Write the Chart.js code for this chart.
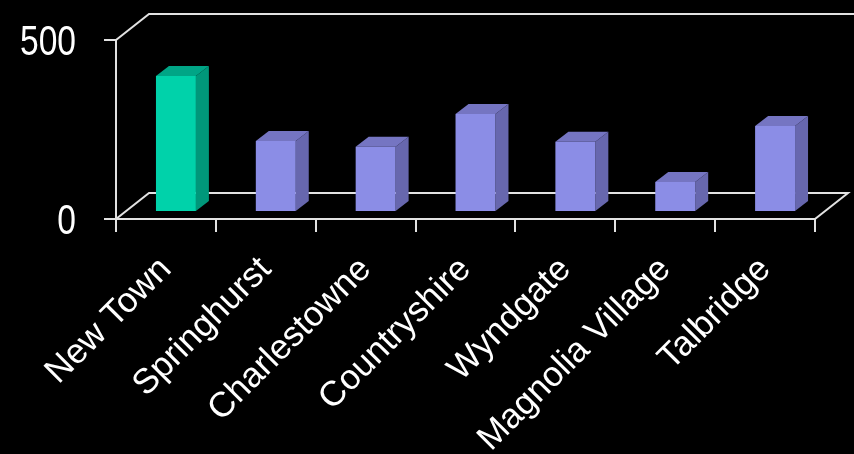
<!DOCTYPE html>
<html>
<head>
<meta charset="utf-8">
<script src="https://cdn.jsdelivr.net/npm/chart.js@4.4.1/dist/chart.umd.min.js"></script>
<style>
  html, body { margin: 0; padding: 0; background: #000; }
  #wrap { width: 854px; height: 454px; position: relative; }
  canvas { display: block; }
</style>
</head>
<body>
<div id="wrap"><canvas id="c" width="854" height="454"></canvas></div>
<script>
const categories = ["New Town", "Springhurst", "Charlestowne", "Countryshire", "Wyndgate", "Magnolia Village", "Talbridge"];
const values = [380, 198, 182, 274, 196, 84, 240];
const yTicks = [0, 500];

const frontColors = categories.map((c, i) => i === 0 ? "#00d2aa" : "#8b8de6");
const sideColors = categories.map((c, i) => i === 0 ? "#00977a" : "#6767ae");
const topColors = categories.map((c, i) => i === 0 ? "#00a586" : "#7575c2");

const LINE = "#e2e2e2";
const DEPTH = { x: 33, y: -26 };   // floor depth
const BAR_SHIFT = { x: 10, y: -7 }; // bar position inside depth
const BAR_DEPTH = { x: 13, y: -10 };

const frame3d = {
  id: "frame3d",
  beforeDatasetsDraw(chart) {
    const ctx = chart.ctx;
    const xs = chart.scales.x, ys = chart.scales.y;
    const L = xs.left, R = xs.right;
    const B = ys.getPixelForValue(0), T = ys.getPixelForValue(500);
    ctx.save();
    ctx.strokeStyle = LINE;
    ctx.lineWidth = 2;
    ctx.beginPath();
    ctx.moveTo(L, B); ctx.lineTo(L + DEPTH.x, B + DEPTH.y);
    ctx.lineTo(R + DEPTH.x, B + DEPTH.y); ctx.lineTo(R, B);
    ctx.moveTo(L, T); ctx.lineTo(L + DEPTH.x, T + DEPTH.y);
    ctx.lineTo(chart.width + 5, T + DEPTH.y);
    ctx.stroke();
    ctx.restore();

    ctx.save();
    ctx.translate(BAR_SHIFT.x, BAR_SHIFT.y);
    const meta = chart.getDatasetMeta(0);
    meta.data.forEach((bar, i) => {
      const p = bar.getProps(["x", "y", "base", "width"], true);
      const l = p.x - p.width / 2, r = p.x + p.width / 2;
      ctx.fillStyle = sideColors[i];
      ctx.beginPath();
      ctx.moveTo(r, p.base); ctx.lineTo(r + BAR_DEPTH.x, p.base + BAR_DEPTH.y);
      ctx.lineTo(r + BAR_DEPTH.x, p.y + BAR_DEPTH.y); ctx.lineTo(r, p.y);
      ctx.closePath(); ctx.fill();
      ctx.fillStyle = topColors[i];
      ctx.beginPath();
      ctx.moveTo(l, p.y); ctx.lineTo(l + BAR_DEPTH.x, p.y + BAR_DEPTH.y);
      ctx.lineTo(r + BAR_DEPTH.x, p.y + BAR_DEPTH.y); ctx.lineTo(r, p.y);
      ctx.closePath(); ctx.fill();
    });
  },
  afterDatasetsDraw(chart) {
    chart.ctx.restore();
  },
  afterDraw(chart) {
    const ctx = chart.ctx, ys = chart.scales.y;
    ctx.save();
    ctx.fillStyle = "#ffffff";
    ctx.font = "42px 'Liberation Sans', Arial, sans-serif";
    ctx.textAlign = "right";
    ctx.textBaseline = "middle";
    ys.ticks.forEach(t => {
      const y = ys.getPixelForValue(t.value) + 3;
      ctx.save();
      ctx.translate(76, y);
      ctx.scale(0.8, 1);
      ctx.fillText(String(t.value), 0, 0);
      ctx.restore();
    });
    ctx.restore();
  }
};

new Chart(document.getElementById("c"), {
  type: "bar",
  data: {
    labels: categories,
    datasets: [{
      data: values,
      backgroundColor: frontColors,
      borderWidth: 0,
      barPercentage: 0.4,
      categoryPercentage: 1.0
    }]
  },
  options: {
    responsive: false,
    animation: false,
    events: [],
    layout: { padding: { left: 0, right: 39, top: 40, bottom: 0 } },
    plugins: { legend: { display: false }, tooltip: { enabled: false } },
    scales: {
      x: {
        afterFit(s) { s.height = 235; },
        grid: { display: true, drawOnChartArea: false, color: LINE, lineWidth: 2, tickLength: 13, offset: true },
        border: { display: true, color: LINE, width: 2 },
        ticks: {
          color: "#ffffff",
          font: { family: "'Liberation Sans', Arial, sans-serif", size: 35 },
          minRotation: 45, maxRotation: 45, autoSkip: false, padding: 17
        }
      },
      y: {
        min: 0, max: 500,
        afterFit(s) { s.width = 116; },
        afterBuildTicks(s) { s.ticks = yTicks.map(v => ({ value: v })); },
        grid: { display: true, drawOnChartArea: false, color: LINE, lineWidth: 2, tickLength: 12 },
        border: { display: true, color: LINE, width: 2 },
        ticks: { display: false }
      }
    }
  },
  plugins: [frame3d]
});
</script>
</body>
</html>
